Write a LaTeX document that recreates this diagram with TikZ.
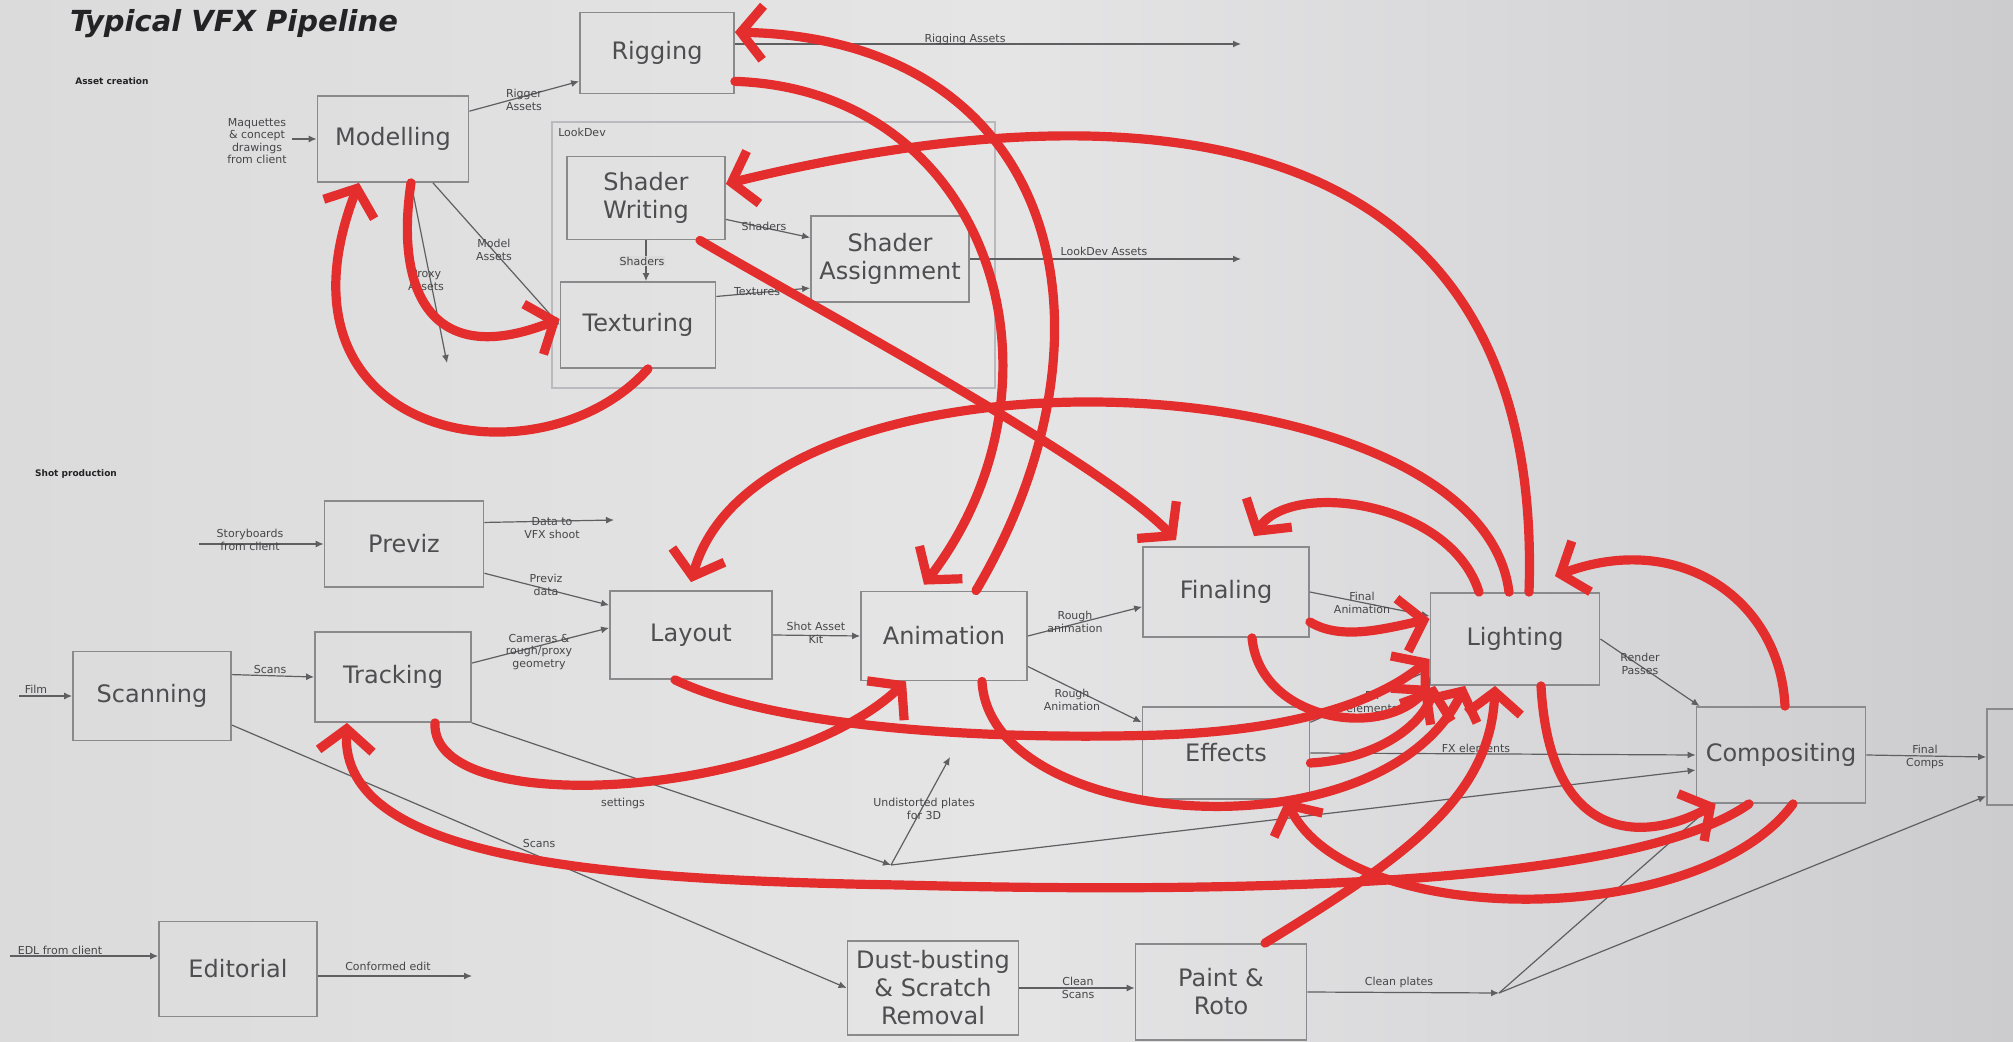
\documentclass[tikz,border=0pt]{standalone}
\usepackage{fontspec}
\setmainfont{DejaVu Sans}
\usetikzlibrary{arrows.meta,calc}
\definecolor{bgL}{RGB}{219,219,220}
\definecolor{bgM}{RGB}{229,229,230}
\definecolor{bgR}{RGB}{204,204,207}
\definecolor{boxline}{RGB}{138,138,140}
\definecolor{boxtext}{RGB}{78,78,80}
\definecolor{lbltext}{RGB}{70,70,72}
\definecolor{flowline}{RGB}{95,95,98}
\definecolor{groupline}{RGB}{185,185,190}
\definecolor{penred}{RGB}{228,46,46}
\definecolor{titletext}{RGB}{35,35,38}
\begin{document}
\begin{tikzpicture}[x=0.5pt,y=-0.5pt,
  box/.style={draw=boxline, line width=0.9pt, text=boxtext, font=\fontsize{12}{14}\selectfont, align=center, inner sep=1pt},
  lbl/.style={text=lbltext, font=\fontsize{5.5}{6.2}\selectfont, align=center, inner sep=0.5pt},
  hdr/.style={text=titletext, font=\fontsize{4.5}{5}\selectfont\bfseries, inner sep=0pt},
  flow/.style={draw=flowline, line width=0.6pt, -{Latex[length=4pt,width=3.5pt]}},
  scrawl/.style={draw=penred, line width=4.6pt, line cap=round, line join=round, -{Straight Barb[length=11pt,width=27pt]}},
  grp/.style={draw=groupline, line width=0.6pt}]
\useasboundingbox (0,0) rectangle (2013,1042);
\clip (0,0) rectangle (2013,1042);
\shade[left color=bgL, right color=bgM] (0,0) rectangle (1000,1042);
\shade[left color=bgM, right color=bgR] (1000,0) rectangle (2013,1042);

% headings
\node[text=titletext, font=\fontsize{14.5}{16}\selectfont\bfseries\itshape] (title) at (234,24) {Typical VFX Pipeline};
\node[hdr] (hasset) at (112,81) {Asset creation};
\node[hdr] (hshot) at (76,474) {Shot production};

% LookDev group
\node[grp, minimum width=221.5pt, minimum height=133pt] (lookdevgrp) at (773.5,255) {};
\node[lbl] (llookdev) at (582,132) {LookDev};

% boxes
\node[box, minimum width=77pt, minimum height=40.5pt] (rig) at (657,53) {Rigging};
\node[box, minimum width=75.5pt, minimum height=43pt] (mod) at (393,139) {Modelling};
\node[box, minimum width=79pt, minimum height=41.5pt] (shw) at (646,198) {Shader\\Writing};
\node[box, minimum width=77.5pt, minimum height=43pt] (tex) at (638,325) {Texturing};
\node[box, minimum width=79pt, minimum height=43pt] (sha) at (890,259) {Shader\\Assignment};
\node[box, minimum width=79.5pt, minimum height=43pt] (prev) at (404,544) {Previz};
\node[box, minimum width=81pt, minimum height=44pt] (lay) at (691,635) {Layout};
\node[box, minimum width=83pt, minimum height=44.5pt] (anim) at (944,636) {Animation};
\node[box, minimum width=83pt, minimum height=45pt] (fin) at (1226,592) {Finaling};
\node[box, minimum width=84.5pt, minimum height=46pt] (lig) at (1515,639) {Lighting};
\node[box, minimum width=79pt, minimum height=44.5pt] (scan) at (152,696) {Scanning};
\node[box, minimum width=78pt, minimum height=45pt] (trk) at (393,677) {Tracking};
\node[box, minimum width=83.5pt, minimum height=46pt] (eff) at (1226,753) {Effects};
\node[box, minimum width=84.5pt, minimum height=48pt] (comp) at (1781,755) {Compositing};
\node[box, minimum width=83pt, minimum height=48pt] (last) at (2070,757) {};
\node[box, minimum width=79pt, minimum height=47.5pt] (edit) at (238,969) {Editorial};
\node[box, minimum width=85.5pt, minimum height=47pt] (dust) at (933,988) {Dust-busting\\\& Scratch\\Removal};
\node[box, minimum width=85.5pt, minimum height=48pt] (paint) at (1221,992) {Paint \&\\Roto};

% free ends
\coordinate (cmaq) at (292,139);
\coordinate (cproxy) at (447,363);
\coordinate (crigout) at (1241,44);
\coordinate (clookout) at (1241,259);
\coordinate (csb) at (199,544);
\coordinate (cprevout) at (614,520);
\coordinate (cfilm) at (19,696);
\coordinate (cedl) at (10,956);
\coordinate (cconf) at (472,976);
\coordinate (p1) at (891,865);
\coordinate (cundist) at (950,757);
\coordinate (p2) at (1499,993);

% black flows
\draw[flow] (cmaq) -- (mod.west);
\draw[flow] (mod.20) -- (rig.-160);
\draw[flow] ([xshift=20pt]mod.south) -- (tex.west);
\draw[flow] ([xshift=9pt]mod.south) -- (cproxy);
\draw[flow] (shw.south) -- (shw.south |- tex.north);
\draw[flow] (shw.-15) -- (sha.165);
\draw[flow] (tex.20) -- (sha.-160);
\draw[flow] (rig.east |- crigout) -- (crigout);
\draw[flow] (sha.east) -- (clookout);
\draw[flow] (csb) -- (prev.west);
\draw[flow] (prev.15) -- (cprevout);
\draw[flow] (prev.-20) -- (lay.160);
\draw[flow] (trk.10) -- (lay.175);
\draw[flow] (cfilm) -- (scan.west);
\draw[flow] (scan.15) -- (trk.west);
\draw[flow] (scan.-20) -- (dust.west);
\draw[flow] (trk.south east) -- (p1);
\draw[flow] (p1) -- (cundist);
\draw[flow] (p1) -- (comp.-170);
\draw[flow] (lay.east) -- (anim.west);
\draw[flow] (anim.east) -- (fin.-170);
\draw[flow] (anim.-20) -- (eff.160);
\draw[flow] (fin.east) -- (lig.165);
\draw[flow] (eff.20) -- (lig.-160);
\draw[flow] (eff.east) -- (comp.west);
\draw[flow] (lig.east) -- ([xshift=2pt]comp.north west);
\draw[flow] (comp.east) -- (last.west);
\draw[flow] (cedl) -- (cedl -| edit.west);
\draw[flow] (edit.east |- cconf) -- (cconf);
\draw[flow] (dust.east) -- (dust.east -| paint.west);
\draw[flow] (paint.east) -- (p2);
\draw[flow] (p2) -- ([xshift=9pt]comp.south west);
\draw[flow] (p2) -- (last.-155);

% flow labels
\node[lbl] (lmaq) at (257,141) {Maquettes\\\& concept\\drawings\\from client};
\node[lbl] (lrigger) at (524,100) {Rigger\\Assets};
\node[lbl] (lmodel) at (494,250) {Model\\Assets};
\node[lbl] (lproxy) at (426,280) {Proxy\\Assets};
\node[lbl, fill=bgL] (lshad1) at (642,261) {Shaders};
\node[lbl] (lshad2) at (764,226) {Shaders};
\node[lbl] (ltextures) at (757,292) {Textures};
\node[lbl] (lrigassets) at (965,39) {Rigging Assets};
\node[lbl] (llookassets) at (1104,251) {LookDev Assets};
\node[lbl] (lsb) at (250,540) {Storyboards\\from client};
\node[lbl] (ldatavfx) at (552,528) {Data to\\VFX shoot};
\node[lbl] (lpreviz) at (546,585) {Previz\\data};
\node[lbl] (lcams) at (539,652) {Cameras \&\\rough/proxy\\geometry};
\node[lbl] (lfilm) at (36,689) {Film};
\node[lbl] (lscans) at (270,669) {Scans};
\node[lbl] (lsettings) at (623,803) {settings};
\node[lbl] (lscans2) at (539,843) {Scans};
\node[lbl] (lundist) at (924,809) {Undistorted plates\\for 3D};
\node[lbl] (lshotkit) at (816,633) {Shot Asset\\Kit};
\node[lbl] (lrough1) at (1075,622) {Rough\\animation};
\node[lbl] (lrough2) at (1072,700) {Rough\\Animation};
\node[lbl] (lfinal) at (1362,603) {Final\\Animation};
\node[lbl] (lfx1) at (1372,702) {FX\\elements};
\node[lbl] (lfx2) at (1476,748) {FX elements};
\node[lbl] (lrender) at (1640,664) {Render\\Passes};
\node[lbl] (lfinalcomps) at (1925,757) {Final\\Comps};
\node[lbl] (ledl) at (60,950) {EDL from client};
\node[lbl] (lconf) at (388,966) {Conformed edit};
\node[lbl] (lclean) at (1078,988) {Clean\\Scans};
\node[lbl] (lcleanplates) at (1399,982) {Clean plates};

% red hand-drawn arrows
\draw[scrawl] ([xshift=7pt]lig.north) .. controls (1545,120) and (1150,80) .. (shw.10);
\draw[scrawl] (rig.-20) .. controls (990,90) and (1080,380) .. ([xshift=-10pt,yshift=3pt]anim.north);
\draw[scrawl] ([xshift=16pt]anim.north) .. controls (1130,330) and (1060,40) .. (rig.15);
\draw[scrawl] ([xshift=27pt]shw.south) .. controls (800,300) and (1100,460) .. ([xshift=-25pt,yshift=3pt]fin.north);
\draw[scrawl] ([xshift=-3pt]lig.north) .. controls (1480,355) and (760,330) .. ([yshift=4pt]lay.north);
\draw[scrawl] ([xshift=-18pt]lig.north) .. controls (1450,500) and (1290,480) .. ([xshift=14pt,yshift=5pt]fin.north);
\draw[scrawl] ([xshift=2pt]comp.north) .. controls (1780,600) and (1680,530) .. ([xshift=20pt,yshift=8pt]lig.north);
\draw[scrawl] ([xshift=9pt]mod.south) .. controls (395,290) and (430,370) .. ([yshift=3pt]tex.west);
\draw[scrawl] ([xshift=5pt]tex.south) .. controls (540,490) and (260,440) .. ([xshift=-17pt]mod.south);
\draw[scrawl] ([xshift=-8pt]lay.south) .. controls (780,730) and (1000,740) .. (1160,735) .. controls (1300,730) and (1380,700) .. ([yshift=-10pt]lig.west);
\draw[scrawl] ([xshift=21pt]trk.south) .. controls (430,820) and (780,800) .. ([xshift=-19pt]anim.south);
\draw[scrawl] ([xshift=-16pt]comp.south) .. controls (1640,880) and (1300,895) .. (900,885) .. controls (600,880) and (340,860) .. ([xshift=-23pt]trk.south);
\draw[scrawl] ([xshift=6pt]comp.south) .. controls (1700,930) and (1350,930) .. ([xshift=30pt]eff.south);
\draw[scrawl] ([xshift=19pt]anim.south) .. controls (990,830) and (1380,860) .. ([xshift=-25pt]lig.south);
\draw[scrawl] ([xshift=22pt]paint.north) .. controls (1400,860) and (1490,800) .. ([xshift=-10pt]lig.south);
\draw[scrawl] ([xshift=13pt]lig.south) .. controls (1550,850) and (1650,840) .. ([xshift=10pt]comp.south west);
\draw[scrawl] ([xshift=13pt]fin.south) .. controls (1260,720) and (1380,740) .. (lig.south west);
\draw[scrawl] ([yshift=-15pt]fin.east) .. controls (1340,640) and (1380,630) .. ([yshift=10pt]lig.west);
\draw[scrawl] ([yshift=-5pt]eff.east) .. controls (1370,760) and (1420,730) .. ([xshift=-40pt]lig.south);
\end{tikzpicture}
\end{document}
